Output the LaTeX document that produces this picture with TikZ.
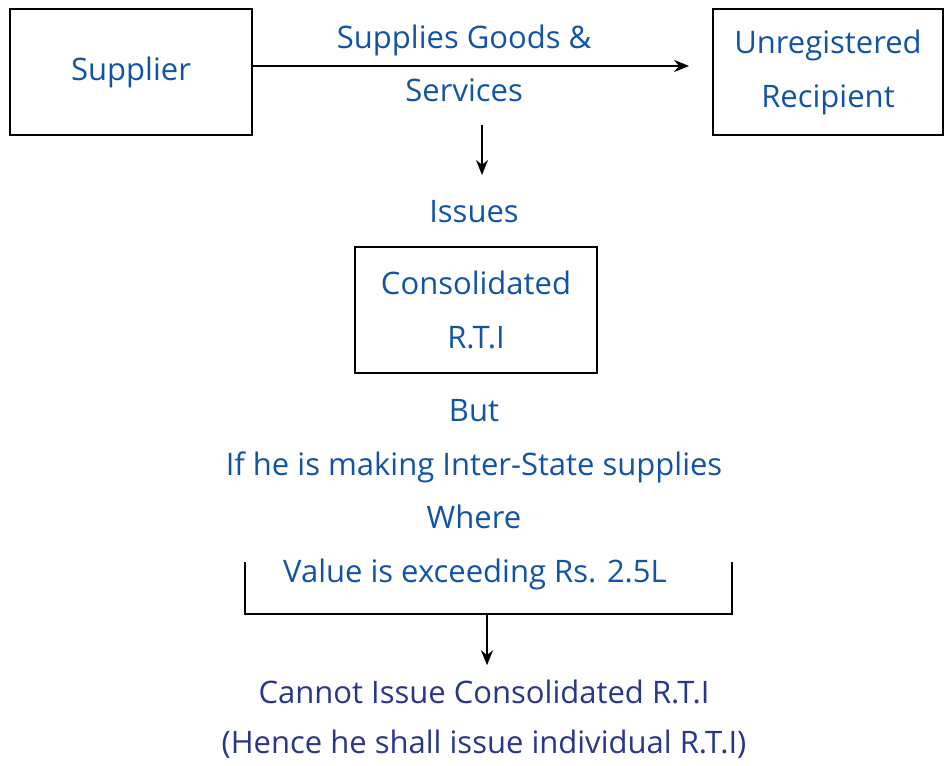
\documentclass[tikz,border=0pt]{standalone}
\usepackage{fontspec}
\setmainfont{Open Sans}
\usetikzlibrary{arrows.meta,positioning}
\definecolor{txtblue}{RGB}{18,84,164}
\definecolor{txtnavy}{RGB}{42,54,136}
\newcommand\bigtxt{\fontsize{31}{54}\selectfont}

\begin{document}
\begin{tikzpicture}[x=1pt, y=-1pt,
  box/.style={draw, line width=1.8pt, minimum width=242pt,
              minimum height=126pt, align=center, font=\bigtxt,
              text=txtblue, inner sep=0pt},
  txt/.style={font=\bigtxt, text=txtblue, align=center,
              inner sep=0pt, anchor=base},
  arr/.style={-{Stealth[length=15pt,width=12pt]}, line width=1.6pt},
]
\useasboundingbox (0,0) rectangle (944,765);

\node[box] (supplier) at (131,72) {Supplier};
\node[box, minimum width=230pt] (recipient) at (828,72) {Unregistered\\Recipient};
\node[box] (consol) at (476,310) {Consolidated\\R.T.I};

\draw[arr, shorten >=23pt] ([yshift=6pt]supplier.east) -- node[txt, anchor=south,
     pos=0.46, above=9pt] {Supplies Goods \&} node[txt, anchor=north, pos=0.46,
     below=12pt] {Services} ([yshift=6pt]recipient.west);

\coordinate (drop) at (482,125);
\coordinate (dropend) at (482,175);
\draw[arr] (drop) -- (dropend);

\node[txt] (issues) at (474,222) {Issues};
\node[txt] (but) at (474,421) {But};
\node[txt] (inter) at (474,475) {If he is making Inter-State supplies};
\node[txt] (where) at (474,528) {Where};
\node[txt] (value) at (475,582) {Value is exceeding Rs. 2.5L};

% bracket under the condition
\coordinate (brTL) at (245,562);
\coordinate (brBL) at (245,614);
\coordinate (brBR) at (732,614);
\coordinate (brTR) at (732,562);
\coordinate (brMid) at (487,614);
\draw[line width=1.8pt] (brTL) -- (brBL) -- (brBR) -- (brTR);

\node[txt, text=txtnavy] (cannot) at (484,703) {Cannot Issue Consolidated R.T.I};
\node[txt, text=txtnavy] (hence) at (484,753) {(Hence he shall issue individual R.T.I)};

\draw[arr, shorten >=14pt] (brMid) -- (brMid |- cannot.north);
\end{tikzpicture}
\end{document}
